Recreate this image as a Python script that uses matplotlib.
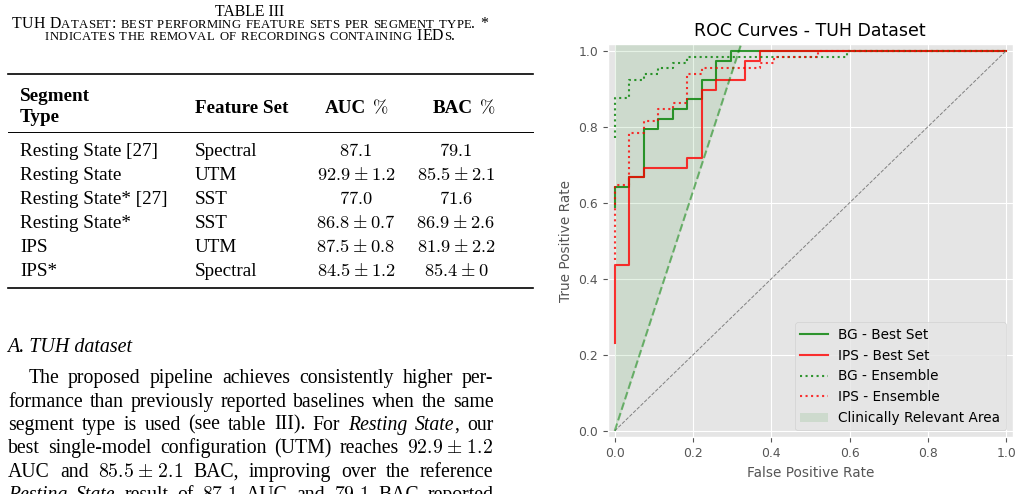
import matplotlib
matplotlib.use('Agg')
import matplotlib.pyplot as plt

plt.style.use('ggplot')
plt.rcParams['mathtext.fontset'] = 'cm'

SERIF = 'Liberation Serif'

# ROC curves (corner points)
bg_best_fpr = [0, 0, 0.037, 0.037, 0.074, 0.074, 0.111, 0.111, 0.148, 0.148,
               0.185, 0.185, 0.222, 0.222, 0.259, 0.259, 0.296, 0.296, 1.0]
bg_best_tpr = [0.590, 0.641, 0.641, 0.667, 0.667, 0.795, 0.795, 0.821, 0.821, 0.846,
               0.846, 0.872, 0.872, 0.923, 0.923, 0.974, 0.974, 1.0, 1.0]

ips_best_fpr = [0, 0, 0.037, 0.037, 0.074, 0.074, 0.185, 0.185, 0.222, 0.222,
                0.259, 0.259, 0.333, 0.333, 0.370, 0.370, 1.0]
ips_best_tpr = [0.231, 0.436, 0.436, 0.667, 0.667, 0.692, 0.692, 0.718, 0.718, 0.897,
                0.897, 0.923, 0.923, 0.974, 0.974, 1.0, 1.0]

bg_ens_fpr = [0, 0, 0.037, 0.037, 0.074, 0.074, 0.111, 0.111, 0.148, 0.148,
              0.185, 0.185, 0.593, 0.593, 1.0]
bg_ens_tpr = [0.771, 0.877, 0.877, 0.923, 0.923, 0.938, 0.938, 0.954, 0.954, 0.969,
              0.969, 0.984, 0.984, 1.0, 1.0]

ips_ens_fpr = [0, 0, 0.037, 0.037, 0.074, 0.074, 0.111, 0.111, 0.148, 0.148,
               0.185, 0.185, 0.222, 0.222, 0.370, 0.370, 0.407, 0.407, 0.519, 0.519, 1.0]
ips_ens_tpr = [0.450, 0.646, 0.646, 0.785, 0.785, 0.815, 0.815, 0.846, 0.846, 0.862,
               0.862, 0.938, 0.938, 0.954, 0.954, 0.969, 0.969, 0.985, 0.985, 1.0, 1.0]

clin_slope = 3.15  # TPR / FPR boundary of the shaded area

# Table III
segments = ['Resting State [27]', 'Resting State', 'Resting State* [27]',
            'Resting State*', 'IPS', 'IPS*']
feature_sets = ['Spectral', 'UTM', 'SST', 'SST', 'UTM', 'Spectral']
auc_mean = ['87.1', '92.9', '77.0', '86.8', '87.5', '84.5']
auc_std = ['', '1.2', '', '0.7', '0.8', '1.2']
bac_mean = ['79.1', '85.5', '71.6', '86.9', '81.9', '85.4']
bac_std = ['', '2.1', '', '2.6', '2.2', '0']

caption = ['TUH Dataset: best performing feature sets per segment type. *',
           'indicates the removal of recordings containing IEDs.']

body = ['The proposed pipeline achieves consistently higher per-',
        'formance than previously reported baselines when the same',
        'segment type is used (see table III). For /Resting/ /State/, our',
        r'best single-model configuration (UTM) reaches $92.9\;{\pm}\;1.2$',
        r'AUC and $85.5\;{\pm}\;2.1$ BAC, improving over the reference',
        r'/Resting/ /State/ result of $87.1$ AUC and $79.1$ BAC reported']

fig = plt.figure(figsize=(10.22, 4.94), dpi=100)

# page layer in pixel coordinates for the paper text
page = fig.add_axes([0, 0, 1, 1])
page.set_xlim(0, 1022)
page.set_ylim(494, 0)
page.axis('off')
renderer = fig.canvas.get_renderer()


def put(x, y, s, **kw):
    kw.setdefault('family', SERIF)
    return page.text(x, y, s, va='baseline', color='black', **kw)


def width(s, **kw):
    t = put(0, 0, s, **kw)
    w = t.get_window_extent(renderer).width
    t.remove()
    return w


def smallcaps(x0, x1, y, text, big, small):
    # small caps, letter-spaced to fill [x0, x1]
    words = [[(ch.upper(), small if ch.islower() else big) for ch in w]
             for w in text.split(' ')]
    ws = [[width(c, fontsize=sz) for c, sz in w] for w in words]
    sp = 0.3 * big * 100 / 72
    nchar = sum(len(w) for w in words)
    ink = sum(sum(w) for w in ws)
    t = (x1 - x0 - ink - sp * (len(words) - 1)) / (nchar - 1)
    x = x0
    for w, wl in zip(words, ws):
        for (c, sz), cw in zip(w, wl):
            put(x, y, c, fontsize=sz)
            x += cw + t
        x += sp


def parse(tok):
    out = []
    for i, p in enumerate(tok.split('/')):
        if p:
            out.append((p, {'style': 'italic'} if i % 2 else {}))
    return out


def justify(x0, x1, y, line, size):
    toks = [parse(t) for t in line.split(' ')]
    ws = [sum(width(s, fontsize=size, **kw) for s, kw in t) for t in toks]
    gap = (x1 - x0 - sum(ws)) / (len(toks) - 1)
    x = x0
    for t, w in zip(toks, ws):
        xx = x
        for s, kw in t:
            a = put(xx, y, s, fontsize=size, **kw)
            xx += a.get_window_extent(renderer).width
        x += w + gap


# caption
put(250, 16.2, 'TABLE III', fontsize=11.3, ha='center')
smallcaps(11.7, 488.3, 27.8, caption[0], 11.4, 9.2)
smallcaps(45, 455, 39.8, caption[1], 11.4, 9.2)

# table
ts = 13.8
ms = 13.3
page.plot([8.3, 533.3], [74, 74], color='black', lw=1.2)
page.plot([8.3, 533.3], [131.7, 131.7], color='black', lw=0.7)
page.plot([8.3, 533.3], [288.3, 288.3], color='black', lw=1.2)
put(20, 101, 'Segment', fontsize=ts, weight='bold')
put(20, 121.5, 'Type', fontsize=ts, weight='bold')
put(195, 113, 'Feature Set', fontsize=ts, weight='bold')
put(366, 113, 'AUC', fontsize=ts, weight='bold', ha='right')
put(372, 113, r'$\%$', fontsize=ms, ha='left')
put(473, 113, 'BAC', fontsize=ts, weight='bold', ha='right')
put(479, 113, r'$\%$', fontsize=ms, ha='left')
for i in range(len(segments)):
    y = 156 + 23.95 * i
    put(20, y, segments[i], fontsize=ts)
    put(195, y, feature_sets[i], fontsize=ts)
    a = auc_mean[i] + (r'\:{\pm}\:' + auc_std[i] if auc_std[i] else '')
    b = bac_mean[i] + (r'\:{\pm}\:' + bac_std[i] if bac_std[i] else '')
    put(356, y, '$' + a + '$', fontsize=ms, ha='center')
    put(456, y, '$' + b + '$', fontsize=ms, ha='center')

# section text
bs = 14.2
put(7, 351.7, 'A. TUH dataset', fontsize=14.4, style='italic')
for i, line in enumerate(body):
    justify(28.3 if i == 0 else 8.3, 493.3, 383.3 + 23.3 * i, line, bs)

# ROC plot
ax = fig.add_axes([0.5946, 0.1148, 0.3963, 0.7961])
ax.plot(bg_best_fpr, bg_best_tpr, color='green', lw=1.5, alpha=0.8, label='BG - Best Set')
ax.plot(ips_best_fpr, ips_best_tpr, color='red', lw=1.5, alpha=0.8, label='IPS - Best Set')
ax.plot(bg_ens_fpr, bg_ens_tpr, color='green', lw=1.5, ls=':', alpha=0.8, label='BG - Ensemble')
ax.plot(ips_ens_fpr, ips_ens_tpr, color='red', lw=1.5, ls=':', alpha=0.8, label='IPS - Ensemble')
ax.plot([0, 1], [0, 1], color='gray', ls='--', lw=0.7)
yy = [0, 1.1]
ax.plot([y / clin_slope for y in yy], yy, color='green', ls='--', lw=1.5, alpha=0.5)
ax.fill_betweenx(yy, [0, 0], [y / clin_slope for y in yy], color='green', alpha=0.1,
                 lw=0, label='Clinically Relevant Area')
ax.set_xlim(-0.018, 1.017)
ax.set_ylim(-0.017, 1.018)
ax.set_xticks([0, 0.2, 0.4, 0.6, 0.8, 1.0])
ax.set_yticks([0, 0.2, 0.4, 0.6, 0.8, 1.0])
ax.tick_params(labelsize=8.9)
ax.set_xlabel('False Positive Rate', fontsize=9.8)
ax.set_ylabel('True Positive Rate', fontsize=9.8)
ax.set_title('ROC Curves - TUH Dataset', fontsize=12.5, color='black')
ax.legend(loc='lower right', fontsize=9.8)

fig.savefig('out.png', dpi=100)
